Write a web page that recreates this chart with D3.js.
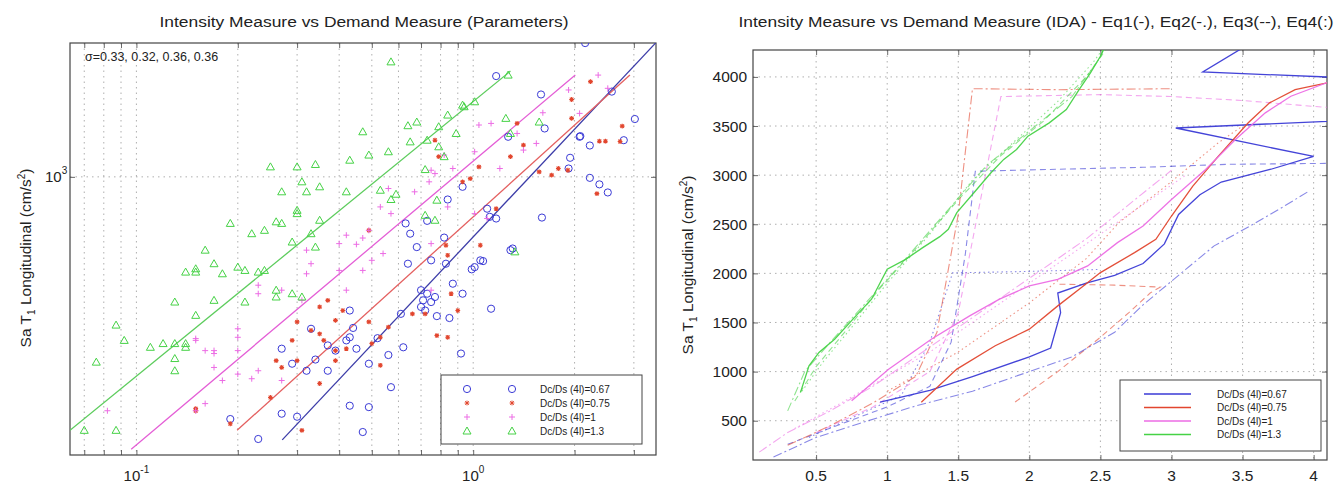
<!DOCTYPE html>
<html><head><meta charset="utf-8">
<script src="https://cdn.jsdelivr.net/npm/d3@7"></script>
<style>
body{margin:0;background:#fff}
svg{font-family:"Liberation Sans",Arial,Helvetica,sans-serif}
</style>
</head><body>
<svg id="chart" width="1338" height="483"></svg>
<script>
// ---------- series labels and colours ----------
const seriesNames = ["Dc/Ds (4l)=0.67", "Dc/Ds (4l)=0.75", "Dc/Ds (4l)=1", "Dc/Ds (4l)=1.3"];
const seriesColors = ["#3a3ad6", "#e2462e", "#ec6ce4", "#46d246"];
const fitColors = ["#3c3ca8", "#e46060", "#e45ed6", "#5ccc5c"];

// ---------- left panel: demand measure vs Sa (log-log) ----------
const pts067 = [[2.15,2540],[1.17,2018],[1.59,1775],[1.27,1322],[1.63,1401],[2.08,1328],[2.07,1322],[2.22,1244],[1.94,1142],[1.92,1060],
  [3.02,1496],[2.80,1291],[2.22,993],[2.37,949],[2.51,897],[1.60,753],[0.93,933],[0.84,854],[1.10,801],[1.12,757],[1.17,748],
  [0.73,736],[0.63,723],[0.65,673],[0.68,613],[0.82,655],[1.29,600],[1.31,607],[0.64,546],[0.75,559],[0.83,546],[1.05,559],
  [1.01,533],[0.87,475],[0.70,454],[0.73,443],[0.71,423],[0.75,418],[0.70,404],[0.72,394],[0.77,433],[0.93,443],[1.13,399],
  [0.61,385],[0.78,379],[0.85,374],[0.33,347],[0.44,349],[0.52,325],[0.42,320],[0.37,309],[0.39,298],[0.27,302],[0.34,280],
  [0.45,302],[0.56,289],[0.62,305],[0.92,292],[0.29,272],[0.32,259],[0.37,259],[0.49,272],[0.57,231],[0.43,203],[0.49,201],
  [0.27,192],[0.30,188],[0.47,169],[0.23,161],[0.19,185],[2.58,1811],[0.43,394],[0.43,327],[0.99,525],[1.07,556]];
const pts075 = [[1.96,1714],[2.77,1424],[2.37,1282],[2.47,1282],[2.73,1279],[2.33,890],[1.91,1047],[1.79,1060],[1.35,1451],[1.41,1247],
  [0.79,1151],[1.04,1072],[0.98,988],[0.93,966],[1.17,801],[1.05,621],[0.83,621],[0.84,579],[0.90,394],[0.78,331],[0.72,385],
  [0.66,385],[0.37,423],[0.35,404],[0.41,394],[0.39,368],[0.30,364],[0.33,343],[0.35,335],[0.29,320],[0.36,320],[0.49,364],
  [0.56,351],[0.53,327],[0.50,313],[0.39,298],[0.27,265],[0.26,278],[0.30,278],[0.39,278],[0.35,237],[0.53,269],[0.31,171],
  [0.42,302],[0.25,215],[0.15,199],[0.15,196],[0.19,179],[1.57,1035],[1.29,1151],[1.71,1012],[2.23,1941],[1.96,1503],
  [0.77,1291],[0.49,689],[0.86,443],[0.84,327]];
const pts100 = [[2.35,2032],[1.92,1832],[2.51,1853],[2.07,1556],[1.61,1563],[1.41,1205],[1.35,1353],[1.13,1451],[1.04,1435],[1.01,1191],
  [0.87,1060],[0.82,1164],[0.77,1023],[0.74,966],[0.56,922],[0.67,901],[0.57,774],[0.53,811],[0.47,653],[0.45,625],[0.49,689],
  [0.42,666],[0.40,628],[0.32,600],[0.33,546],[0.40,521],[0.47,521],[0.50,559],[0.54,586],[0.27,454],[0.23,470],[0.23,443],
  [0.20,347],[0.20,327],[0.31,423],[0.32,509],[0.42,454],[0.15,324],[0.16,298],[0.17,292],[0.17,298],[0.17,265],[0.20,298],
  [0.20,253],[0.23,259],[0.22,245],[0.18,242],[0.27,242],[0.15,196],[0.16,206],[0.082,196],[0.15,320],[0.75,1047],[0.84,811],
  [1.10,748],[0.75,628],[1.01,774],[1.20,1060],[0.75,454],[1.54,1262]];
const pts130 = [[0.57,2228],[0.64,1428],[0.68,1465],[0.79,1418],[0.93,1648],[0.84,1538],[0.94,1630],[1.27,2032],[1.25,1503],[1.57,1465],
  [1.01,1687],[0.89,1353],[0.79,1233],[0.72,1052],[0.82,1151],[0.73,1291],[0.65,1276],[0.56,1191],[0.49,1164],[0.47,1369],
  [0.43,1123],[0.25,1072],[0.30,1072],[0.34,1090],[0.31,966],[0.32,901],[0.35,933],[0.27,901],[0.42,901],[0.53,911],[0.57,854],
  [0.59,886],[0.72,765],[0.78,850],[0.30,792],[0.26,731],[0.27,723],[0.30,774],[0.22,673],[0.24,689],[0.19,723],[0.35,739],
  [0.33,673],[0.34,613],[0.29,635],[0.16,600],[0.20,533],[0.21,521],[0.23,515],[0.24,521],[0.26,454],[0.26,433],[0.29,443],
  [0.31,433],[0.17,423],[0.14,515],[0.15,515],[0.15,527],[0.17,546],[0.18,509],[0.21,418],[0.15,381],[0.13,418],[0.087,356],
  [0.092,320],[0.11,305],[0.12,313],[0.13,313],[0.14,313],[0.14,305],[0.13,282],[0.13,259],[0.076,275],[0.087,171],[0.070,171],
  [1.29,1353],[1.33,593],[0.77,739]];
const leftPoints = [pts067, pts075, pts100, pts130];

// least-squares fit lines, given by their end points
const fit067 = [[0.271,160],[3.49,2547]];
const fit075 = [[0.199,171],[2.92,2032]];
const fit100 = [[0.0965,150],[2.01,2032]];
const fit130 = [[0.0635,171],[1.29,2089]];
const leftFits = [fit067, fit075, fit100, fit130];

const leftXDomain = [0.0635, 3.49];
const leftYDomain = [144, 2541];
const leftXGrid = [0.07,0.08,0.09,0.1,0.2,0.3,0.4,0.5,0.6,0.7,0.8,0.9,1,2,3];
const leftYGrid = [1000];
const leftXTicks = [0.1, 1];
const leftXTickExp = ["-1", "0"];
const leftYTicks = [1000];
const leftYTickExp = ["3"];
const sigmaText = "\u03c3=0.33, 0.32, 0.36, 0.36";

// ---------- right panel: IDA curves, Eq1..Eq4 per Dc/Ds ----------
const equationDash = ["", "9,3,2,3", "6,4", "1.5,3"];
const ida067 = [
  [[0.95,690],[1.3,810],[1.6,950],[2.0,1150],[2.15,1240],[2.22,1600],[2.2,1800],[2.4,1900],[2.6,1980],[2.8,2100],[2.95,2300],
   [3.05,2600],[3.2,2800],[3.35,2930],[3.7,3060],[4.0,3190],[3.03,3480],[4.6,3580],[4.6,3970],[3.22,4050],[3.62,4400]],
  [[0.2,130],[0.5,330],[0.8,470],[1.2,650],[1.6,800],[2.0,1000],[2.3,1150],[2.6,1400],[2.8,1680],[3.1,2040],[3.3,2280],
   [3.55,2480],[3.8,2690],[3.97,2840]],
  [[0.3,260],[0.7,480],[1.0,640],[1.3,850],[1.45,1300],[1.55,2200],[1.62,3040],[2.2,3060],[2.8,3080],[3.4,3110],[4.1,3120]],
  [[0.45,330],[0.8,560],[1.1,760],[1.3,1300],[1.46,2005],[2.0,2020],[2.5,2040]]
];
const ida075 = [
  [[1.24,687],[1.49,1025],[1.76,1263],[2.0,1432],[2.2,1669],[2.38,1872],[2.5,2008],[2.74,2211],[2.89,2347],[3.0,2584],
   [3.15,2889],[3.33,3194],[3.54,3533],[3.69,3736],[3.87,3871],[4.15,3956]],
  [[0.3,250],[0.6,450],[0.9,680],[1.2,950],[1.35,1400],[1.5,2600],[1.6,3880],[2.2,3870],[3.0,3880]],
  [[1.9,690],[2.2,1000],[2.5,1350],[2.7,1600],[2.85,1800],[2.92,1860],[2.6,1880],[2.2,1890]],
  [[1.0,800],[1.5,1200],[2.0,1700],[2.4,2150],[2.63,2516],[2.97,2900],[3.33,3330],[3.5,3500]]
];
const ida100 = [
  [[0.75,703],[1.01,1025],[1.31,1330],[1.58,1567],[1.79,1737],[2.0,1872],[2.2,1940],[2.41,2076],[2.62,2313],[2.8,2482],
   [3.0,2753],[3.24,3058],[3.45,3363],[3.66,3634],[3.84,3803],[4.15,3973]],
  [[0.1,180],[0.3,380],[0.6,600],[0.9,850],[1.2,1150],[1.5,1450],[1.8,1750],[2.1,2050],[2.4,2350],[2.7,2700],[3.0,3050]],
  [[0.5,380],[0.9,640],[1.3,1000],[1.5,1600],[1.65,2700],[1.8,3800],[2.5,3820],[3.0,3800],[3.5,3760],[4.0,3700],[4.1,3690]],
  [[0.35,420],[0.7,700],[1.0,950],[1.3,1200],[1.6,1500],[2.0,1900],[2.4,2300],[2.8,2700],[3.1,3000]]
];
const ida130 = [
  [[0.39,788],[0.45,1059],[0.52,1195],[0.63,1330],[0.78,1567],[0.89,1737],[1.0,2042],[1.13,2143],[1.25,2262],[1.37,2374],
   [1.43,2448],[1.49,2618],[1.61,2821],[1.73,3024],[1.82,3160],[1.91,3261],[1.99,3397],[2.14,3532],[2.26,3668],[2.35,3871],
   [2.43,4041],[2.50,4210],[2.55,4362]],
  [[0.3,600],[0.42,1000],[0.6,1300],[0.85,1700],[1.1,2100],[1.4,2600],[1.7,3100],[2.0,3450],[2.3,3800],[2.5,4200],[2.55,4400]],
  [[0.35,700],[0.5,1050],[0.7,1400],[0.95,1850],[1.2,2250],[1.5,2750],[1.8,3200],[2.1,3550],[2.4,4000],[2.55,4300]],
  [[0.4,800],[0.55,1100],[0.75,1450],[1.0,1900],[1.3,2400],[1.6,2950],[1.9,3350],[2.2,3750],[2.45,4150],[2.55,4350]]
];
const rightCurves = [ida067, ida075, ida100, ida130];

const rightXDomain = [0.056, 4.094];
const rightYDomain = [100, 4274];
const rightXTicks = [0.5,1,1.5,2,2.5,3,3.5,4];
const rightYTicks = [500,1000,1500,2000,2500,3000,3500,4000];
const rightTitle = "Intensity Measure vs Demand Measure (IDA) - Eq1(-), Eq2(-.), Eq3(--), Eq4(:)";
const leftTitle = "Intensity Measure vs Demand Measure (Parameters)";

// ---------- drawing ----------
const svg = d3.select("#chart");
const axisColor = "#444";
const gridColor = "#9a9a9a";
const textColor = "#222";

function yLabel(g, x, y) {
  const t = g.append("text").attr("transform", `translate(${x},${y}) rotate(-90)`)
    .attr("text-anchor", "middle").attr("font-size", 15.5).attr("fill", textColor);
  t.append("tspan").text("Sa T");
  t.append("tspan").attr("font-size", 10).attr("dy", 4).text("1");
  t.append("tspan").attr("dy", -4).text(" Longitudinal (cm/s");
  t.append("tspan").attr("font-size", 10).attr("dy", -6).text("2");
  t.append("tspan").attr("dy", 6).text(")");
}

function markerPath(kind, cx, cy) {
  const p = d3.path();
  if (kind === 0) { // circle
    p.moveTo(cx + 3.6, cy); p.arc(cx, cy, 3.6, 0, 2 * Math.PI);
  } else if (kind === 1) { // asterisk
    const s = 2.4;
    p.moveTo(cx - s, cy); p.lineTo(cx + s, cy);
    p.moveTo(cx, cy - s); p.lineTo(cx, cy + s);
    p.moveTo(cx - s*0.75, cy - s*0.75); p.lineTo(cx + s*0.75, cy + s*0.75);
    p.moveTo(cx - s*0.75, cy + s*0.75); p.lineTo(cx + s*0.75, cy - s*0.75);
  } else if (kind === 2) { // plus
    const s = 3;
    p.moveTo(cx - s, cy); p.lineTo(cx + s, cy);
    p.moveTo(cx, cy - s); p.lineTo(cx, cy + s);
  } else { // triangle
    const s = 4;
    p.moveTo(cx, cy - s); p.lineTo(cx + s, cy + s*0.75); p.lineTo(cx - s, cy + s*0.75); p.closePath();
  }
  return p.toString();
}

// ===== left panel =====
(function leftPanel() {
  const L = {x0: 70, x1: 656, y0: 43, y1: 455};
  const x = d3.scaleLog().domain(leftXDomain).range([L.x0, L.x1]);
  const y = d3.scaleLog().domain(leftYDomain).range([L.y1, L.y0]);
  const g = svg.append("g");

  g.append("clipPath").attr("id", "clipL").append("rect")
    .attr("x", L.x0).attr("y", L.y0).attr("width", L.x1 - L.x0).attr("height", L.y1 - L.y0);

  // grid
  g.append("g").selectAll("line").data(leftXGrid).join("line")
    .attr("x1", d => x(d)).attr("x2", d => x(d)).attr("y1", L.y0).attr("y2", L.y1)
    .attr("stroke", gridColor).attr("stroke-width", 0.8).attr("stroke-dasharray", "1.5,4");
  g.append("g").selectAll("line").data(leftYGrid).join("line")
    .attr("y1", d => y(d)).attr("y2", d => y(d)).attr("x1", L.x0).attr("x2", L.x1)
    .attr("stroke", gridColor).attr("stroke-width", 0.8).attr("stroke-dasharray", "1.5,4");

  // ticks (inside), major and minor
  const xAxB = d3.axisBottom(x).tickValues(leftXGrid).tickSize(-5).tickFormat("");
  const xAxT = d3.axisTop(x).tickValues(leftXGrid).tickSize(-5).tickFormat("");
  const yAxL = d3.axisLeft(y).tickValues(leftYTicks).tickSize(-5).tickFormat("");
  const yAxR = d3.axisRight(y).tickValues(leftYTicks).tickSize(-5).tickFormat("");
  [[xAxB, `translate(0,${L.y1})`], [xAxT, `translate(0,${L.y0})`], [yAxL, `translate(${L.x0},0)`], [yAxR, `translate(${L.x1},0)`]]
    .forEach(([ax, tr]) => {
      const a = g.append("g").attr("transform", tr).call(ax);
      a.select(".domain").remove();
      a.selectAll("line").attr("stroke", axisColor).attr("stroke-width", 0.8);
    });
  g.append("rect").attr("x", L.x0).attr("y", L.y0).attr("width", L.x1 - L.x0).attr("height", L.y1 - L.y0)
    .attr("fill", "none").attr("stroke", axisColor).attr("stroke-width", 1.2);

  // tick labels
  leftXTicks.forEach((v, i) => {
    const t = g.append("text").attr("x", x(v)).attr("y", 481).attr("text-anchor", "middle")
      .attr("font-size", 15).attr("fill", textColor);
    t.append("tspan").text("10");
    t.append("tspan").attr("font-size", 10).attr("dy", -8).text(leftXTickExp[i]);
  });
  leftYTicks.forEach((v, i) => {
    const t = g.append("text").attr("x", 45).attr("y", y(v) + 5).attr("text-anchor", "start")
      .attr("font-size", 15).attr("fill", textColor);
    t.append("tspan").text("10");
    t.append("tspan").attr("font-size", 10).attr("dy", -8).text(leftYTickExp[i]);
  });

  // data
  const plot = g.append("g").attr("clip-path", "url(#clipL)");
  leftFits.forEach((f, i) => {
    plot.append("path").datum(f)
      .attr("d", d3.line().x(d => x(d[0])).y(d => y(d[1])))
      .attr("fill", "none").attr("stroke", fitColors[i]).attr("stroke-width", 1.3);
  });
  leftPoints.forEach((pts, i) => {
    plot.append("g").selectAll("path").data(pts).join("path")
      .attr("d", d => markerPath(i, x(d[0]), y(d[1])))
      .attr("fill", "none").attr("stroke", seriesColors[i]).attr("stroke-width", i === 1 ? 1.1 : 1);
  });

  // text
  g.append("text").attr("x", 85).attr("y", 61).attr("font-size", 12.5).attr("fill", textColor).text(sigmaText);
  g.append("text").attr("x", (L.x0 + L.x1) / 2 + 1).attr("y", 27).attr("text-anchor", "middle")
    .attr("font-size", 14).attr("fill", textColor).attr("textLength", 409).attr("lengthAdjust", "spacingAndGlyphs")
    .text(leftTitle);
  yLabel(g, 31, 258);

  // legend
  const lg = g.append("g");
  lg.append("rect").attr("x", 441).attr("y", 375).attr("width", 201).attr("height", 69)
    .attr("fill", "#fff").attr("stroke", axisColor).attr("stroke-width", 1);
  seriesNames.forEach((n, i) => {
    const yy = 389 + i * 14;
    [467, 512].forEach(xx => lg.append("path").attr("d", markerPath(i, xx, yy))
      .attr("fill", "none").attr("stroke", seriesColors[i]).attr("stroke-width", 1));
    lg.append("text").attr("x", 540).attr("y", yy + 3.5).attr("font-size", 10).attr("fill", textColor).text(n);
  });
})();

// ===== right panel =====
(function rightPanel() {
  const R = {x0: 753, x1: 1327, y0: 50, y1: 460};
  const x = d3.scaleLinear().domain(rightXDomain).range([R.x0, R.x1]);
  const y = d3.scaleLinear().domain(rightYDomain).range([R.y1, R.y0]);
  const g = svg.append("g");

  g.append("clipPath").attr("id", "clipR").append("rect")
    .attr("x", R.x0).attr("y", R.y0).attr("width", R.x1 - R.x0).attr("height", R.y1 - R.y0);

  g.append("g").selectAll("line").data(rightXTicks).join("line")
    .attr("x1", d => x(d)).attr("x2", d => x(d)).attr("y1", R.y0).attr("y2", R.y1)
    .attr("stroke", gridColor).attr("stroke-width", 0.8).attr("stroke-dasharray", "1.5,4");
  g.append("g").selectAll("line").data(rightYTicks).join("line")
    .attr("y1", d => y(d)).attr("y2", d => y(d)).attr("x1", R.x0).attr("x2", R.x1)
    .attr("stroke", gridColor).attr("stroke-width", 0.8).attr("stroke-dasharray", "1.5,4");

  const axes = [
    [d3.axisBottom(x).tickValues(rightXTicks).tickSize(-5).tickFormat(""), `translate(0,${R.y1})`],
    [d3.axisTop(x).tickValues(rightXTicks).tickSize(-5).tickFormat(""), `translate(0,${R.y0})`],
    [d3.axisLeft(y).tickValues(rightYTicks).tickSize(-5).tickFormat(""), `translate(${R.x0},0)`],
    [d3.axisRight(y).tickValues(rightYTicks).tickSize(-5).tickFormat(""), `translate(${R.x1},0)`]
  ];
  axes.forEach(([ax, tr]) => {
    const a = g.append("g").attr("transform", tr).call(ax);
    a.select(".domain").remove();
    a.selectAll("line").attr("stroke", axisColor).attr("stroke-width", 0.8);
  });
  g.append("rect").attr("x", R.x0).attr("y", R.y0).attr("width", R.x1 - R.x0).attr("height", R.y1 - R.y0)
    .attr("fill", "none").attr("stroke", axisColor).attr("stroke-width", 1.2);

  g.append("g").selectAll("text").data(rightXTicks).join("text")
    .attr("x", d => x(d)).attr("y", 481).attr("text-anchor", "middle").attr("font-size", 15.5)
    .attr("fill", textColor).text(d => d);
  g.append("g").selectAll("text").data(rightYTicks).join("text")
    .attr("x", 747).attr("y", d => y(d) + 5.5).attr("text-anchor", "end").attr("font-size", 15.5)
    .attr("fill", textColor).text(d => d);

  const plot = g.append("g").attr("clip-path", "url(#clipR)");
  const line = d3.line().x(d => x(d[0])).y(d => y(d[1]));
  // dashed equations first, solid on top
  [3, 2, 1, 0].forEach(eq => {
    rightCurves.forEach((c, i) => {
      plot.append("path").datum(c[eq]).attr("d", line)
        .attr("fill", "none").attr("stroke", seriesColors[i])
        .attr("stroke-opacity", eq === 0 ? 0.95 : 0.6)
        .attr("stroke-width", eq === 0 ? 1.3 : 1.1)
        .attr("stroke-dasharray", equationDash[eq] || null);
    });
  });

  g.append("text").attr("x", 1036).attr("y", 27).attr("text-anchor", "middle")
    .attr("font-size", 14).attr("fill", textColor).attr("textLength", 595).attr("lengthAdjust", "spacingAndGlyphs")
    .text(rightTitle);
  yLabel(g, 693, 265);

  const lg = g.append("g");
  lg.append("rect").attr("x", 1120).attr("y", 380).attr("width", 201).attr("height", 71)
    .attr("fill", "#fff").attr("stroke", axisColor).attr("stroke-width", 1);
  seriesNames.forEach((n, i) => {
    const yy = 394 + i * 13.5;
    lg.append("line").attr("x1", 1144).attr("x2", 1191).attr("y1", yy).attr("y2", yy)
      .attr("stroke", seriesColors[i]).attr("stroke-width", 1.3);
    lg.append("text").attr("x", 1217).attr("y", yy + 3.5).attr("font-size", 10).attr("fill", textColor).text(n);
  });
})();
</script>
</body></html>
